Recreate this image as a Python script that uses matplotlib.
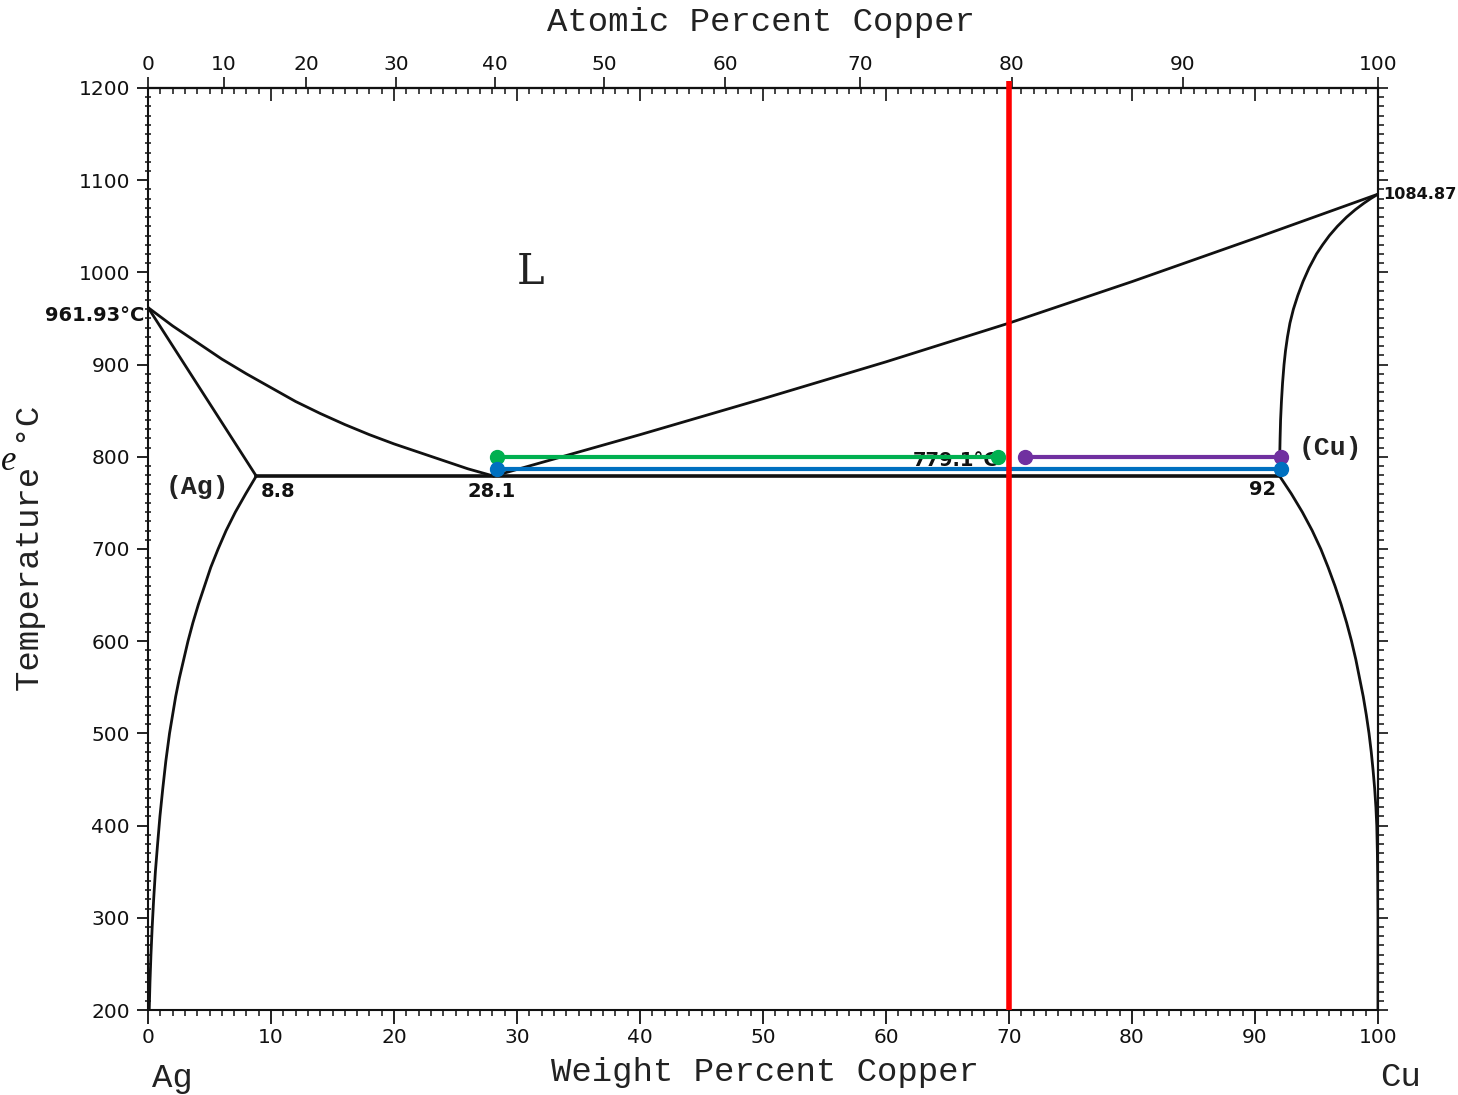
import numpy as np
import matplotlib
matplotlib.use("Agg")
import matplotlib.pyplot as plt
from matplotlib.ticker import MultipleLocator, FixedLocator

# ---- data (weight percent Cu, temperature in deg C) ----
liq_ag_x = [0, 2, 4, 6, 8, 10, 12, 14, 16, 18, 20, 22, 24, 26, 28.1]
liq_ag_y = [961.93, 942, 924, 906, 890, 875, 860, 847, 835, 824, 814, 805, 796, 787, 779.1]

sol_ag_x = [0, 8.8]
sol_ag_y = [961.93, 779.1]

solv_ag_x = [8.8, 7.95, 7.1, 6.35, 5.7, 5.1, 4.6, 4.1, 3.65, 3.25, 2.9, 2.55, 2.25,
             2.0, 1.75, 1.45, 1.2, 0.97, 0.78, 0.6, 0.46, 0.34, 0.24, 0.16, 0.1]
solv_ag_y = [779.1, 760, 740, 720, 700, 680, 660, 640, 620, 600, 580, 560, 540,
             520, 500, 470, 440, 410, 380, 350, 320, 290, 260, 230, 200]

liq_cu_x = [28.1, 40, 50, 60, 70, 80, 90, 100]
liq_cu_y = [779.1, 824, 863, 903, 945, 990, 1037, 1084.87]

sol_cu_x = [100, 99.4, 98.85, 98.15, 97.45, 96.7, 96.05, 95.5, 95.0, 94.4, 93.9,
            93.48, 93.12, 92.84, 92.64, 92.48, 92.36, 92.24, 92.15, 92.08, 92.04,
            92.01, 92.0]
sol_cu_y = [1084.87, 1080, 1075, 1068, 1060, 1050, 1040, 1030, 1020, 1005, 990,
            975, 960, 945, 930, 915, 900, 880, 860, 840, 820, 800, 779.1]

solv_cu_x = [92.0, 92.95, 93.85, 94.65, 95.35, 95.95, 96.5, 97.0, 97.45, 97.85, 98.2,
             98.5, 98.8, 99.05, 99.27, 99.45, 99.6, 99.73, 99.83, 99.9, 99.95, 99.98,
             100, 100]
solv_cu_y = [779.1, 760, 740, 720, 700, 680, 660, 640, 620, 600, 580,
             560, 540, 520, 500, 480, 460, 440, 420, 400, 370, 340,
             300, 200]

eutectic_x = [8.8, 92.0]
eutectic_t = 779.1

green_x = [28.4, 69.1]
green_y = [800, 800]
purple_x = [71.3, 92.1]
purple_y = [800, 800]
blue_x = [28.4, 92.1]
blue_y = [787, 787]
red_x = 70
red_y = [200, 1208]

x_ticks = list(range(0, 101, 10))
y_ticks = list(range(200, 1201, 100))
at_ticks = list(range(0, 101, 10))

M_CU = 63.546
M_AG = 107.868


def wt_to_at(w):
    w = np.clip(np.asarray(w, dtype=float), 0, 100)
    a = w / M_CU
    b = (100 - w) / M_AG
    with np.errstate(divide="ignore", invalid="ignore"):
        return np.where(a + b > 0, a / (a + b) * 100, 0.0)


def at_to_wt(a):
    a = np.clip(np.asarray(a, dtype=float), 0, 100)
    num = a * M_CU
    den = a * M_CU + (100 - a) * M_AG
    with np.errstate(divide="ignore", invalid="ignore"):
        return np.where(den > 0, num / den * 100, 0.0)


W, H = 1458, 1095
fig = plt.figure(figsize=(W / 100, H / 100), dpi=100)
ax = fig.add_axes([148 / W, 1 - 1010 / H, (1378 - 148) / W, (1010 - 88) / H])
ax.set_xlim(0, 100)
ax.set_ylim(200, 1200)

lw = 2.0
k = "#111111"
for xs, ys in [(liq_ag_x, liq_ag_y), (sol_ag_x, sol_ag_y), (solv_ag_x, solv_ag_y),
               (liq_cu_x, liq_cu_y), (sol_cu_x, sol_cu_y), (solv_cu_x, solv_cu_y)]:
    ax.plot(xs, ys, color=k, lw=lw, zorder=2, solid_capstyle="round",
            solid_joinstyle="round")
ax.plot(eutectic_x, [eutectic_t, eutectic_t], color=k, lw=2.6, zorder=2)

# spines & ticks
for s in ax.spines.values():
    s.set_linewidth(1.5)
    s.set_color(k)

ax.xaxis.set_major_locator(FixedLocator(x_ticks))
ax.xaxis.set_minor_locator(MultipleLocator(1))
ax.yaxis.set_major_locator(FixedLocator(y_ticks))
ax.yaxis.set_minor_locator(MultipleLocator(10))
ax.tick_params(axis="x", which="major", direction="out", length=10, width=1.3,
               labelsize=14.5, pad=3, colors=k)
ax.tick_params(axis="x", which="minor", direction="out", length=4, width=1.1, colors=k)
ax.tick_params(axis="y", which="major", direction="out", length=8, width=1.3,
               labelsize=14.5, pad=5, colors=k)
ax.tick_params(axis="y", which="minor", direction="inout", length=5, width=1.1, colors=k)

# top: wt% ticks pointing inward
top_in = ax.secondary_xaxis("top")
top_in.xaxis.set_major_locator(FixedLocator(x_ticks))
top_in.xaxis.set_minor_locator(MultipleLocator(1))
top_in.tick_params(which="major", direction="in", length=9, width=1.2, labeltop=False, colors=k)
top_in.tick_params(which="minor", direction="in", length=4, width=1.1, colors=k)
top_in.spines["top"].set_linewidth(1.5)

# top: atomic percent labels
top_at = ax.secondary_xaxis("top", functions=(wt_to_at, at_to_wt))
top_at.xaxis.set_major_locator(FixedLocator(at_ticks))
top_at.xaxis.set_minor_locator(FixedLocator([]))
top_at.tick_params(which="major", direction="out", length=8, width=1.2,
                   labelsize=14.5, pad=2, colors=k)
top_at.spines["top"].set_linewidth(1.5)

# right: temperature ticks pointing outward
right = ax.secondary_yaxis("right")
right.yaxis.set_major_locator(FixedLocator(y_ticks))
right.yaxis.set_minor_locator(MultipleLocator(10))
right.tick_params(which="major", direction="out", length=7, width=1.2, labelright=False, colors=k)
right.tick_params(which="minor", direction="out", length=4, width=1.1, colors=k)
right.spines["right"].set_linewidth(1.5)

# axis titles (typewriter-like serif)
tfont = dict(family="Liberation Mono", fontsize=24.5, color="#222222")
fig.text(761 / W, 1 - 22 / H, "Atomic Percent Copper", ha="center", va="center", **tfont)
fig.text(765 / W, 1 - 1073 / H, "Weight Percent Copper", ha="center", va="center", **tfont)
fig.text(31 / W, 1 - 548 / H, "Temperature °C", ha="center", va="center", rotation=90, **tfont)
fig.text(172 / W, 1 - 1078 / H, "Ag", ha="center", va="center", **tfont)
fig.text(1400 / W, 1 - 1077 / H, "Cu", ha="center", va="center", **tfont)
fig.text(0.0005, 1 - 462 / H, "e", ha="left", va="center", family="Liberation Serif",
         style="italic", fontsize=25, color="#111111")

# annotations
bfont = dict(family="DejaVu Sans", fontweight="bold", fontsize=14, color="#111111")
ax.text(-0.3, 953, "961.93°C", ha="right", va="center", clip_on=False, zorder=3, **bfont)
ax.text(100.45, 1084, "1084.87", ha="left", va="center", clip_on=False, zorder=3,
        family="DejaVu Sans", fontweight="bold", fontsize=11.6, color="#111111")
ax.text(9.2, 762, "8.8", ha="left", va="center", zorder=3, **bfont)
ax.text(27.9, 762, "28.1", ha="center", va="center", zorder=3, **bfont)
ax.text(65.7, 796, "779.1°C", ha="center", va="center", zorder=3, **bfont)
ax.text(90.6, 764, "92", ha="center", va="center", zorder=3, **bfont)
pfont = dict(family="Liberation Mono", fontweight="bold", fontsize=19, color="#222222")
ax.text(4.0, 767, "(Ag)", ha="center", va="center", zorder=3, **pfont)
ax.text(96.1, 810, "(Cu)", ha="center", va="center", zorder=3, **pfont)
ax.text(31.1, 1000, "L", ha="center", va="center", family="DejaVu Serif", fontsize=30,
        color="#222222", zorder=3)

# colored tie lines
ax.plot(green_x, green_y, color="#00b050", lw=3, marker="o", ms=10, zorder=4, clip_on=False)
ax.plot(purple_x, purple_y, color="#7030a0", lw=3, marker="o", ms=10, zorder=4, clip_on=False)
ax.plot(blue_x, blue_y, color="#0070c0", lw=3, marker="o", ms=10, zorder=4, clip_on=False)
ax.plot([red_x, red_x], red_y, color="#ff0000", lw=4, zorder=5, clip_on=False,
        solid_capstyle="butt")

fig.savefig("out.png", dpi=100, facecolor="white")
